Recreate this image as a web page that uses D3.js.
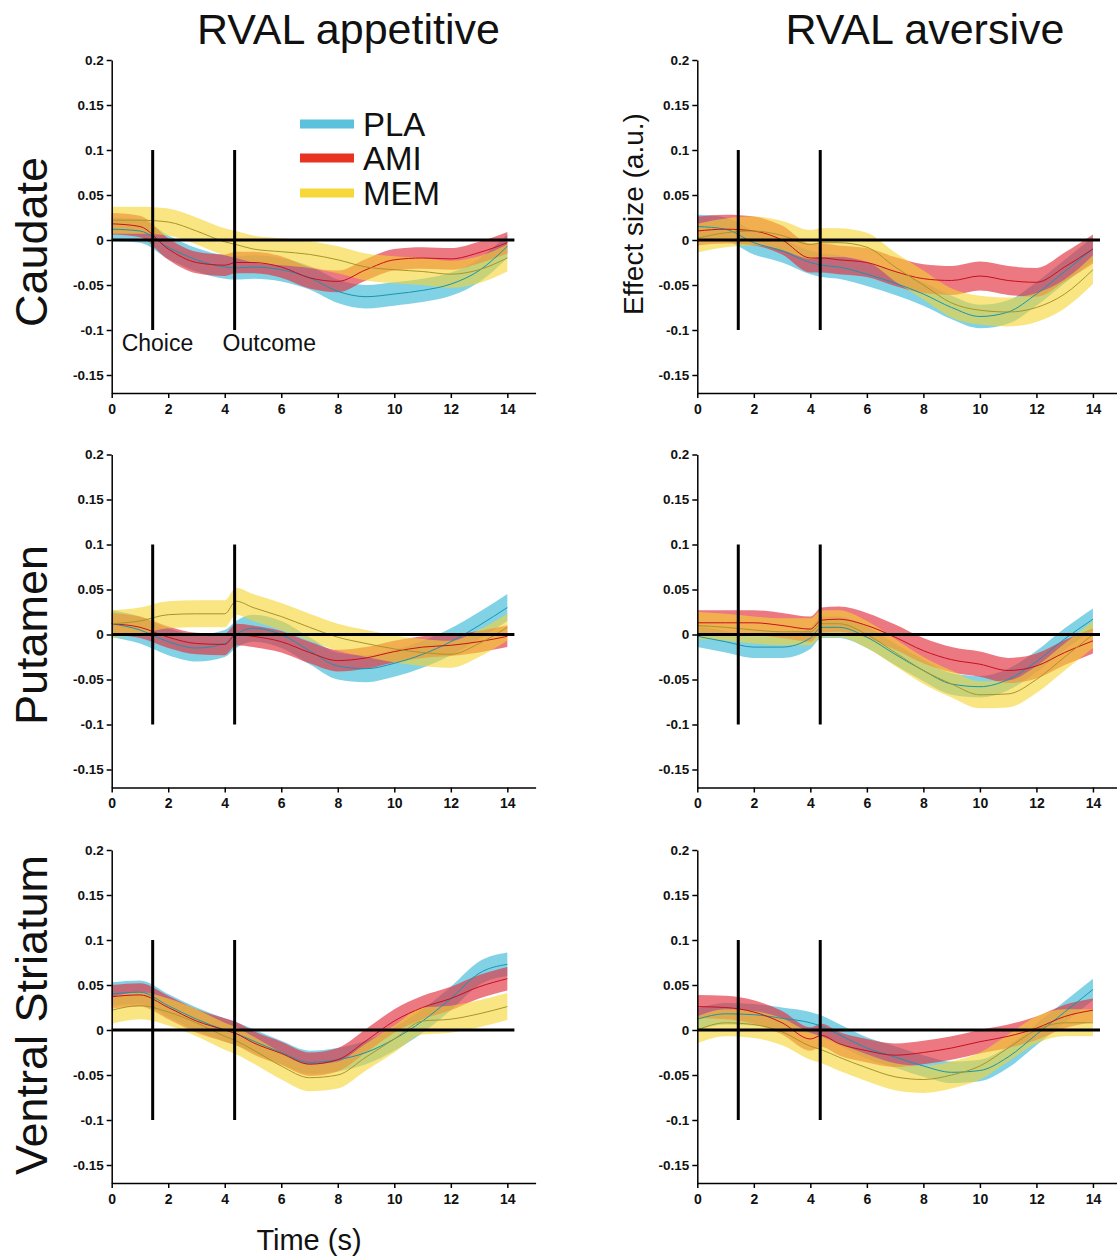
<!DOCTYPE html>
<html>
<head>
<meta charset="utf-8">
<script src="https://cdn.jsdelivr.net/npm/d3@7"></script>
<style>
  html, body { margin: 0; padding: 0; background: #fff; }
  svg { display: block; font-family: "Liberation Sans", Arial, sans-serif; }
</style>
</head>
<body>
<svg id="chart" width="1117" height="1258"></svg>
<script>
// ---------- DATA ----------
const groups = ["PLA", "AMI", "MEM"];
const columnTitles = ["RVAL appetitive", "RVAL aversive"];
const rowTitles = ["Caudate", "Putamen", "Ventral Striatum"];
const times = [0, 1, 2, 3, 4, 4.4, 5, 6, 7, 8, 9, 10, 11, 12, 13, 14];
const xTicks = [0, 2, 4, 6, 8, 10, 12, 14];
const yTicks = [-0.15, -0.1, -0.05, 0, 0.05, 0.1, 0.15, 0.2];
const yTickLabels = ["-0.15", "-0.1", "-0.05", "0", "0.05", "0.1", "0.15", "0.2"];
const eventTimes = [1.45, 4.35];
const eventLabels = ["Choice", "Outcome"];

// Caudate, appetitive
const caudAppPLA = [0.012, 0.01, -0.008, -0.022, -0.03, -0.031, -0.03, -0.033, -0.042, -0.057, -0.063, -0.06, -0.056, -0.049, -0.034, -0.007];
const caudAppAMI = [0.018, 0.015, -0.01, -0.025, -0.028, -0.025, -0.025, -0.03, -0.042, -0.046, -0.033, -0.022, -0.02, -0.021, -0.014, -0.003];
const caudAppMEM = [0.022, 0.022, 0.02, 0.01, -0.002, -0.005, -0.01, -0.013, -0.016, -0.022, -0.03, -0.033, -0.035, -0.038, -0.033, -0.02];
const caudAppSE = [0.013, 0.012, 0.015];
// Caudate, aversive
const caudAvPLA = [0.015, 0.012, -0.003, -0.012, -0.025, -0.028, -0.03, -0.038, -0.048, -0.06, -0.075, -0.085, -0.08, -0.06, -0.035, -0.01];
const caudAvAMI = [0.01, 0.012, 0.01, 0.0, -0.02, -0.02, -0.022, -0.025, -0.035, -0.043, -0.045, -0.04, -0.045, -0.047, -0.03, -0.01];
const caudAvMEM = [0.002, 0.008, 0.01, 0.005, -0.005, -0.003, -0.003, -0.008, -0.03, -0.05, -0.07, -0.078, -0.08, -0.075, -0.06, -0.033];
const caudAvSE = [0.013, 0.016, 0.016];
// Putamen, appetitive
const putAppPLA = [0.012, 0.005, -0.008, -0.015, -0.01, 0.0, 0.007, 0.0, -0.018, -0.035, -0.038, -0.032, -0.022, -0.008, 0.01, 0.03];
const putAppAMI = [0.012, 0.008, -0.003, -0.01, -0.011, 0.0, -0.002, -0.008, -0.02, -0.029, -0.026, -0.019, -0.014, -0.012, -0.008, -0.002];
const putAppMEM = [0.012, 0.015, 0.022, 0.023, 0.023, 0.037, 0.03, 0.02, 0.008, -0.003, -0.01, -0.016, -0.02, -0.022, -0.01, 0.008];
const putAppSE = [0.015, 0.012, 0.015];
// Putamen, aversive
const putAvPLA = [-0.002, -0.008, -0.014, -0.014, -0.004, 0.008, 0.008, -0.003, -0.022, -0.04, -0.055, -0.058, -0.05, -0.03, -0.005, 0.017];
const putAvAMI = [0.013, 0.013, 0.013, 0.01, 0.006, 0.016, 0.017, 0.01, -0.003, -0.018, -0.028, -0.033, -0.04, -0.035, -0.02, -0.007];
const putAvMEM = [0.01, 0.008, 0.005, 0.003, 0.003, 0.012, 0.012, 0.0, -0.02, -0.04, -0.055, -0.067, -0.066, -0.05, -0.025, 0.0];
const putAvSE = [0.012, 0.014, 0.015];
// Ventral striatum, appetitive
const vsAppPLA = [0.04, 0.042, 0.027, 0.012, 0.0, -0.004, -0.012, -0.025, -0.036, -0.033, -0.025, -0.01, 0.01, 0.035, 0.063, 0.073];
const vsAppAMI = [0.037, 0.039, 0.025, 0.01, 0.0, -0.004, -0.014, -0.026, -0.038, -0.033, -0.012, 0.01, 0.025, 0.035, 0.048, 0.057];
const vsAppMEM = [0.022, 0.027, 0.02, 0.008, -0.007, -0.012, -0.022, -0.04, -0.053, -0.05, -0.03, -0.01, 0.01, 0.012, 0.018, 0.026];
const vsAppSE = [0.013, 0.013, 0.015];
// Ventral striatum, aversive
const vsAvPLA = [0.012, 0.018, 0.017, 0.013, 0.008, 0.004, -0.005, -0.02, -0.03, -0.04, -0.047, -0.045, -0.03, -0.005, 0.02, 0.045];
const vsAvAMI = [0.026, 0.025, 0.02, 0.008, -0.01, -0.006, -0.015, -0.023, -0.028, -0.025, -0.02, -0.013, -0.007, 0.002, 0.015, 0.022];
const vsAvMEM = [0.0, 0.008, 0.006, -0.002, -0.018, -0.022, -0.03, -0.042, -0.052, -0.055, -0.05, -0.04, -0.02, 0.0, 0.008, 0.008];
const vsAvSE = [0.012, 0.013, 0.015];

const panels = [
  [ {means: [caudAppPLA, caudAppAMI, caudAppMEM], se: caudAppSE},
    {means: [caudAvPLA, caudAvAMI, caudAvMEM], se: caudAvSE} ],
  [ {means: [putAppPLA, putAppAMI, putAppMEM], se: putAppSE},
    {means: [putAvPLA, putAvAMI, putAvMEM], se: putAvSE} ],
  [ {means: [vsAppPLA, vsAppAMI, vsAppMEM], se: vsAppSE},
    {means: [vsAvPLA, vsAvAMI, vsAvMEM], se: vsAvSE} ]
];

// ---------- STYLE ----------
const bandColors = ["#4dbfdc", "#e2323f", "#f6d331"];
const bandOpacity = [0.7, 0.66, 0.6];
const lineColors = ["#1596b0", "#c8101e", "#a8952a"];
const drawOrder = [0, 1, 2];

const colX = [111.7, 697.3];
const rowY = [60, 454.5, 850];
const plotW = 423.9;   // 0..15 s
const plotH = 333;     // 0.2 .. -0.17

const svg = d3.select("#chart");

const x = d3.scaleLinear().domain([0, 15]).range([0, plotW]);
const y = d3.scaleLinear().domain([-0.17, 0.2]).range([plotH, 0]);

panels.forEach((row, ri) => {
  row.forEach((p, ci) => {
    const g = svg.append("g").attr("transform", `translate(${colX[ci]},${rowY[ri]})`);

    // bands
    drawOrder.forEach(k => {
      const m = p.means[k], s = p.se[k];
      const pts = times.map((t, i) => ({t, lo: m[i] - s, hi: m[i] + s}));
      const area = d3.area().x(d => x(d.t)).y0(d => y(d.lo)).y1(d => y(d.hi)).curve(d3.curveMonotoneX);
      g.append("path").attr("d", area(pts))
        .attr("fill", bandColors[k]).attr("fill-opacity", bandOpacity[k]);
    });
    // mean lines
    drawOrder.forEach(k => {
      const m = p.means[k];
      const pts = times.map((t, i) => ({t, v: m[i]}));
      const line = d3.line().x(d => x(d.t)).y(d => y(d.v)).curve(d3.curveMonotoneX);
      g.append("path").attr("d", line(pts))
        .attr("fill", "none").attr("stroke", lineColors[k]).attr("stroke-width", 1);
    });

    // zero line
    g.append("line").attr("x1", x(0)).attr("x2", x(14.25)).attr("y1", y(0)).attr("y2", y(0))
      .attr("stroke", "#000").attr("stroke-width", 3);
    // event lines
    eventTimes.forEach(t => {
      g.append("line").attr("x1", x(t)).attr("x2", x(t)).attr("y1", y(0.1)).attr("y2", y(-0.1))
        .attr("stroke", "#000").attr("stroke-width", 3);
    });

    // axes
    const yAxis = d3.axisLeft(y).tickValues(yTicks)
      .tickFormat((d, i) => yTickLabels[i]).tickSize(5).tickSizeOuter(0).tickPadding(3);
    const ya = g.append("g").call(yAxis);
    ya.selectAll("text").attr("font-size", 13.5).attr("font-weight", "bold")
      .attr("font-family", "'Liberation Sans', Arial, sans-serif").attr("fill", "#111");
    ya.select(".domain").attr("stroke-width", 1.5);
    ya.selectAll(".tick line").attr("stroke-width", 1.5);

    const xAxis = d3.axisBottom(x).tickValues(xTicks).tickSize(5).tickSizeOuter(0).tickPadding(6);
    const xa = g.append("g").attr("transform", `translate(0,${plotH})`).call(xAxis);
    xa.selectAll("text").attr("font-size", 14).attr("font-weight", "bold")
      .attr("font-family", "'Liberation Sans', Arial, sans-serif").attr("fill", "#111");
    xa.select(".domain").attr("stroke-width", 1.5);
    xa.selectAll(".tick line").attr("stroke-width", 1.5);

    // event labels in first panel
    if (ri === 0 && ci === 0) {
      const offsets = [-31, -12];
      eventLabels.forEach((lab, i) => {
        g.append("text").attr("x", x(eventTimes[i]) + offsets[i])
          .attr("y", y(-0.1) + 21)
          .attr("font-size", 23).attr("fill", "#111").text(lab);
      });
    }
  });
});

// Column titles
columnTitles.forEach((t, i) => {
  svg.append("text").attr("x", [348.5, 925][i]).attr("y", 44)
    .attr("text-anchor", "middle").attr("font-size", 43).attr("fill", "#111").text(t);
});
// Row titles
const rowCenters = [242, 635, 1015];
rowTitles.forEach((t, i) => {
  svg.append("text").attr("transform", `translate(47,${rowCenters[i]}) rotate(-90)`)
    .attr("text-anchor", "middle").attr("font-size", 45).attr("fill", "#111").text(t);
});
// Y axis title
svg.append("text").attr("transform", "translate(643,214) rotate(-90)")
  .attr("text-anchor", "middle").attr("font-size", 28).attr("fill", "#111").text("Effect size (a.u.)");
// X axis title
svg.append("text").attr("x", 309).attr("y", 1250).attr("text-anchor", "middle")
  .attr("font-size", 29).attr("fill", "#111").text("Time (s)");

// Legend
const legY = [124, 158, 193];
const legendColors = ["#5bc1dc", "#e83323", "#f7d83a"];
groups.forEach((gname, i) => {
  svg.append("rect").attr("x", 300).attr("y", legY[i] - 4.5).attr("width", 54).attr("height", 9)
    .attr("fill", legendColors[i]);
  svg.append("text").attr("x", 363).attr("y", legY[i] + 12).attr("font-size", 33)
    .attr("fill", "#111").text(gname);
});
</script>
</body>
</html>
